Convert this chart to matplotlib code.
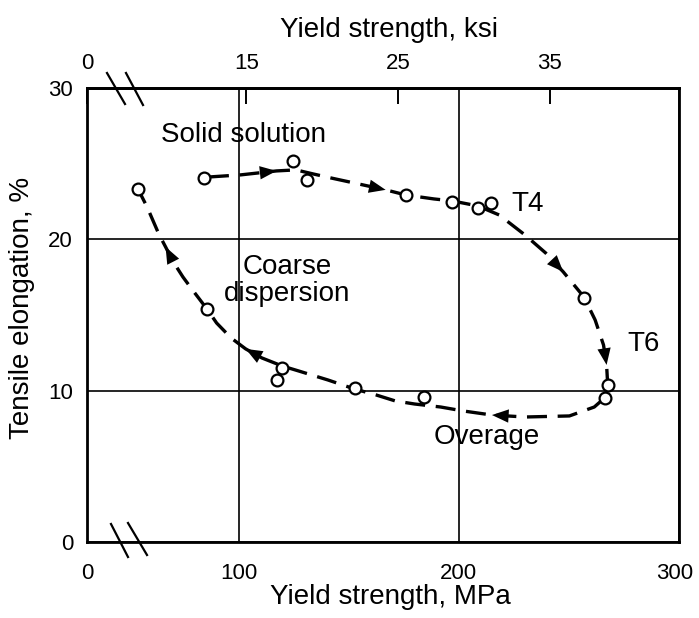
import matplotlib
matplotlib.use("Agg")
import matplotlib.pyplot as plt
import numpy as np
from matplotlib.lines import Line2D
from matplotlib.transforms import ScaledTranslation

plt.rcParams['font.family'] = ['Liberation Sans', 'DejaVu Sans']

# Specimens: yield strength (MPa) and tensile elongation (%)
ys_mpa = [54.0, 84.2, 124.6, 131.1, 175.9, 196.9, 208.5, 214.6,
          256.8, 267.6, 266.2, 184.2, 152.6, 119.7, 117.5, 85.5]
elong_pct = [23.3, 24.05, 25.2, 23.9, 22.9, 22.5, 22.1, 22.4,
             16.1, 10.4, 9.5, 9.6, 10.2, 11.5, 10.7, 15.4]

# Hand-drawn trend through the ageing sequence (solid solution -> T4 -> T6 -> overage -> coarse dispersion)
path_mpa = [86.4, 100.9, 117.1, 125.9, 133.8, 141.7, 152.2, 166.7, 175.9, 188.6,
            196.9, 208.5, 218.3, 230.0, 239.4, 247.4, 256.8, 261.9, 265.7, 267.1,
            267.6, 266.2, 261.5, 250.2, 230.0, 215.0, 201.9, 191.7, 179.8, 171.1,
            162.3, 152.6, 140.4, 127.2, 119.7, 110.5, 103.1, 96.5, 89.9, 85.5,
            78.9, 74.6, 70.2, 66.7, 63.6, 58.3, 55.3]
path_pct = [24.12, 24.26, 24.52, 24.59, 24.32, 24.06, 23.73, 23.27, 22.93, 22.67,
            22.54, 22.21, 21.61, 20.29, 19.10, 17.85, 16.19, 14.67, 13.02, 11.70,
            10.38, 9.52, 8.92, 8.33, 8.26, 8.39, 8.66, 8.92, 9.12, 9.32,
            9.72, 10.11, 10.71, 11.30, 11.63, 12.16, 12.76, 13.48, 14.47, 15.40,
            16.66, 17.51, 18.51, 19.50, 20.36, 22.14, 23.0]
# path vertices that carry a direction arrow
arrow_idx = [2, 7, 15, 19, 25, 36, 43]

# Axis scales (the strength axis is broken just after zero)
x_break = 31.0
mpa_ticks = [x_break, 100, 200, 300]
mpa_labels = ['0', '100', '200', '300']
ksi_ticks = [15, 25, 35]
ksi_labels = ['15', '25', '35']
pct_ticks = [0, 10, 20, 30]
pct_labels = ['0', '10', '20', '30']
MPA_PER_KSI = 6.895

W, H = 699, 618
fig = plt.figure(figsize=(W / 100, H / 100), dpi=100)
ax = fig.add_axes([87 / W, 1 - 542 / H, (679 - 87) / W, (542 - 88) / H])

ax.set_xlim(x_break, 300)
ax.set_ylim(0, 30)

tick_size = 16

ax.set_xticks(mpa_ticks)
ax.set_xticklabels(mpa_labels)
ax.set_yticks(pct_ticks)
ax.set_yticklabels(pct_labels)
ax.tick_params(axis='x', length=0, pad=15, labelsize=tick_size)
ax.tick_params(axis='y', length=0, pad=10, labelsize=tick_size)
ax.grid(True, color='black', linewidth=1.2)
for sp in ax.spines.values():
    sp.set_linewidth(2.0)

# keep the rightmost strength label inside the figure
last = ax.get_xticklabels()[-1]
last.set_transform(last.get_transform() + ScaledTranslation(-3 / 72, 0, fig.dpi_scale_trans))

# Top axis in ksi
sec = ax.secondary_xaxis('top', functions=(lambda m: np.asarray(m) / MPA_PER_KSI,
                                           lambda k: np.asarray(k) * MPA_PER_KSI))
sec.set_xticks([x_break / MPA_PER_KSI] + ksi_ticks)
sec.set_xticklabels(['0'] + ksi_labels)
sec.tick_params(axis='x', direction='in', length=11.5, width=1.4, pad=10,
                labelsize=tick_size)
sec.spines['top'].set_linewidth(2.0)

fig.text(389 / W, 1 - 30 / H, 'Yield strength, ksi', fontsize=20,
         ha='center', va='center')

ax.set_xlabel('Yield strength, MPa', fontsize=20, va='center')
ax.xaxis.set_label_coords((390 - 87) / 592, (542 - 597) / 454)
ax.set_ylabel('Tensile elongation, %', fontsize=20, va='center')
ax.yaxis.set_label_coords((22 - 87) / 592, (542 - 308) / 454)

# Trend line and arrows
ax.plot(path_mpa, path_pct, color='black', linewidth=2.4,
        linestyle=(0, (6, 3.2)), solid_capstyle='butt', zorder=3)
for i in arrow_idx:
    ax.annotate('', xy=(path_mpa[i], path_pct[i]),
                xytext=(path_mpa[i - 1], path_pct[i - 1]),
                arrowprops=dict(arrowstyle='-|>,head_length=0.6,head_width=0.24',
                                mutation_scale=20, color='black', lw=0,
                                shrinkA=0, shrinkB=0),
                zorder=4)

# Specimen markers
ax.plot(ys_mpa, elong_pct, linestyle='none', marker='o', markersize=8.5,
        markerfacecolor='white', markeredgecolor='black', markeredgewidth=1.6,
        zorder=5)

# Region labels
txt = dict(fontsize=20, ha='center', va='center', color='black', zorder=6)
ax.text(101.9, 26.9, 'Solid solution', **txt)
ax.text(121.9, 17.25, 'Coarse\ndispersion', linespacing=1.05, **txt)
ax.text(231.0, 22.35, 'T4', **txt)
ax.text(283.7, 13.1, 'T6', **txt)
ax.text(212.8, 6.94, 'Overage', **txt)

# Axis break marks
def brk(x1, y1, x2, y2):
    fig.add_artist(Line2D([x1 / W, x2 / W], [1 - y1 / H, 1 - y2 / H],
                          transform=fig.transFigure, color='black', linewidth=1.6))

brk(111, 524, 128, 557)
brk(128, 523, 147, 555)
brk(107, 73, 125, 104)
brk(126, 73, 143, 105)

fig.savefig('out.png', dpi=100)
